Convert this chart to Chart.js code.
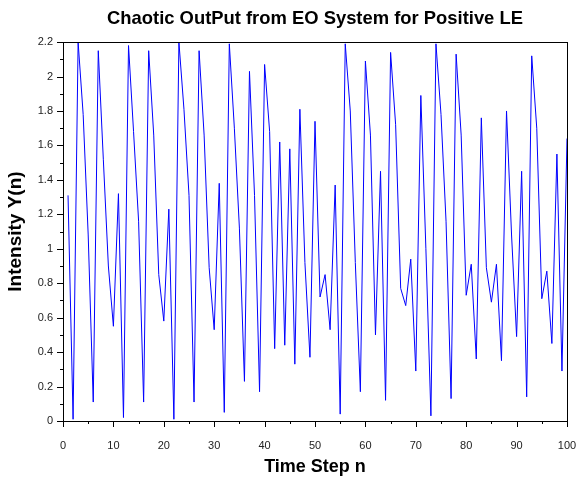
<!DOCTYPE html>
<html>
<head>
<meta charset="utf-8">
<script src="https://cdn.jsdelivr.net/npm/chart.js@4"></script>
<style>
  html, body { margin: 0; padding: 0; background: #fff; }
  #wrap { width: 576px; height: 480px; }
</style>
</head>
<body>
<div id="wrap"><canvas id="eo"></canvas></div>
<script>
// time steps n = 1..100
var steps = Array.from({ length: 100 }, function (_, i) { return i + 1; });

// intensity
var intensity = [
  1.31, 0.01, 2.20, 1.78, 1.08, 0.11, 2.15, 1.52, 0.90, 0.55,
  1.32, 0.02, 2.18, 1.68, 1.16, 0.11, 2.15, 1.66, 0.85, 0.58,
  1.23, 0.01, 2.20, 1.81, 1.31, 0.11, 2.15, 1.66, 0.89, 0.53,
  1.38, 0.05, 2.19, 1.70, 1.12, 0.23, 2.03, 1.31, 0.17, 2.07,
  1.68, 0.42, 1.62, 0.44, 1.58, 0.33, 1.81, 0.92, 0.37, 1.74,
  0.72, 0.85, 0.53, 1.37, 0.04, 2.19, 1.80, 0.92, 0.17, 2.09,
  1.66, 0.50, 1.45, 0.12, 2.14, 1.72, 0.77, 0.67, 0.94, 0.29,
  1.89, 1.00, 0.03, 2.19, 1.78, 1.16, 0.13, 2.13, 1.66, 0.73,
  0.91, 0.36, 1.76, 0.89, 0.69, 0.91, 0.35, 1.80, 1.08, 0.49,
  1.45, 0.14, 2.12, 1.70, 0.71, 0.87, 0.45, 1.55, 0.29, 1.64
];

// tick marks (major every xMajor / yMajor, minor halfway)
var xMajor = 10, xMinor = 5;
var yMajor = 0.2, yMinor = 0.1;

var points = steps.map(function (n, i) { return { x: n, y: intensity[i] }; });

// box around the plot + outward major/minor ticks
var boxTicks = {
  id: 'boxTicks',
  afterDraw: function (chart) {
    var ctx = chart.ctx, a = chart.chartArea;
    var xs = chart.scales.x, ys = chart.scales.y;
    ctx.save();
    ctx.strokeStyle = '#000';
    ctx.lineWidth = 1;
    ctx.strokeRect(Math.round(a.left) + 0.5, Math.round(a.top) + 0.5,
      Math.round(a.right - a.left), Math.round(a.bottom - a.top));
    ctx.beginPath();
    var v, p, len;
    for (v = xs.min; v <= xs.max + 1e-9; v += xMinor) {
      p = Math.round(xs.getPixelForValue(v)) + 0.5;
      len = Math.abs(v % xMajor) < 1e-9 ? 6 : 3;
      ctx.moveTo(p, a.bottom);
      ctx.lineTo(p, a.bottom + len);
    }
    for (var k = 0; k * yMinor <= ys.max + 1e-9; k++) {
      v = k * yMinor;
      p = Math.round(ys.getPixelForValue(v)) + 0.5;
      len = k % 2 === 0 ? 6 : 3;
      ctx.moveTo(a.left, p);
      ctx.lineTo(a.left - len, p);
    }
    ctx.stroke();
    ctx.restore();
  }
};

new Chart(document.getElementById('eo'), {
  type: 'line',
  data: {
    datasets: [{
      data: points,
      borderColor: '#0000ff',
      borderWidth: 1,
      pointRadius: 0,
      tension: 0,
      fill: false
    }]
  },
  options: {
    responsive: true,
    maintainAspectRatio: false,
    animation: false,
    layout: { padding: { left: 0, right: 9, top: 0, bottom: 0 } },
    plugins: {
      legend: { display: false },
      tooltip: { enabled: false },
      title: {
        display: true,
        fullSize: false,
        text: 'Chaotic OutPut from EO System for Positive LE',
        color: '#000',
        font: { family: 'Liberation Sans', size: 18.4, weight: 'bold' },
        padding: { top: 8, bottom: 12 }
      }
    },
    scales: {
      x: {
        type: 'linear',
        min: 0,
        max: 100,
        grid: { display: false },
        border: { display: true, color: '#000' },
        ticks: {
          stepSize: xMajor,
          padding: 10,
          color: '#222',
          font: { family: 'Liberation Sans', size: 11 },
          maxRotation: 0
        },
        title: {
          display: true,
          text: 'Time Step n',
          color: '#000',
          font: { family: 'Liberation Sans', size: 18, weight: 'bold' },
          padding: { top: 0, bottom: 2.5 }
        },
        afterFit: function (s) { s.height = 59; s.paddingLeft = 0; s.paddingRight = 0; }
      },
      y: {
        min: 0,
        max: 2.2,
        grid: { display: false },
        border: { display: true, color: '#000' },
        ticks: {
          stepSize: yMajor,
          padding: 2,
          color: '#222',
          font: { family: 'Liberation Sans', size: 11 },
          callback: function (v) { return String(Math.round(v * 10) / 10); }
        },
        title: {
          display: true,
          text: 'Intensity Y(n)',
          color: '#000',
          font: { family: 'Liberation Sans', size: 19, weight: 'bold' },
          padding: { top: 4, bottom: 0 }
        },
        afterFit: function (s) { s.width = 63; s.paddingTop = 0; s.paddingBottom = 0; }
      }
    }
  },
  plugins: [boxTicks]
});
</script>
</body>
</html>
